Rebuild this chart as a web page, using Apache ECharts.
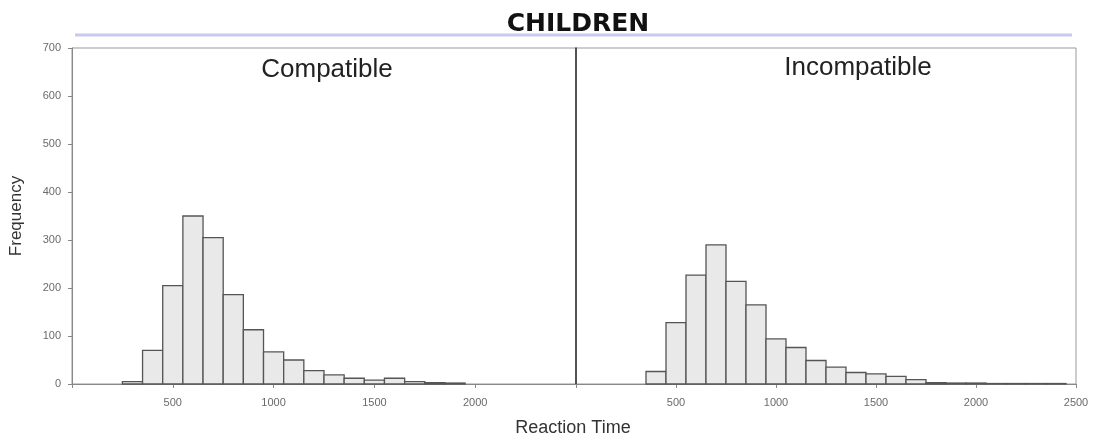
<!DOCTYPE html>
<html><head><meta charset="utf-8">
<script src="https://cdn.jsdelivr.net/npm/echarts@6/dist/echarts.min.js"></script>
<style>html,body{margin:0;padding:0;background:#fff}#c{width:1099px;height:444px}</style>
</head><body><div id="c"></div>
<script>
// Histogram bins (start of each 100 ms bin)
const binStarts = [250,350,450,550,650,750,850,950,1050,1150,1250,1350,1450,1550,1650,1750,1850,1950,2050,2150,2250,2350];
const binWidth = 100;
const compatibleCounts   = [5,70,205,350,305,186,113,67,50,28,19,12,8,12,5,3,2,0,0,0,0,0];
const incompatibleCounts = [0,26,128,227,290,214,165,94,76,49,35,24,21,16,9,3,2,2,1,1,1,1];
const panelTitles = ['Compatible','Incompatible'];
const xTicks = [500,1000,1500,2000,2500];

const chart = echarts.init(document.getElementById('c'));
function histData(counts){ return binStarts.map((s,i)=>[s, s+binWidth, counts[i]]).filter(d=>d[2]>0); }
function renderItem(params, api){
  const a = api.coord([api.value(0), api.value(2)]);
  const b = api.coord([api.value(1), 0]);
  return {type:'rect', shape:{x:a[0], y:a[1], width:b[0]-a[0], height:b[1]-a[1]},
    style:{fill:'#e9e9e9', stroke:'#555', lineWidth:1.3}};
}
const axisLabelStyle = {color:'#6a6a6a', fontSize:11, fontFamily:'Arial'};
function xAxis(idx, showLast){
  return {type:'value', gridIndex:idx, min:0, max:2500, interval:500,
    axisLine:{show:true, lineStyle:{color:'#888'}}, splitLine:{show:false},
    axisTick:{show:true, length:4, lineStyle:{color:'#888'}},
    axisLabel:Object.assign({margin:13, formatter:v => (xTicks.indexOf(v)<0 || (!showLast && v===2500)) ? '' : String(v)}, axisLabelStyle)};
}
const option = {
  backgroundColor:'#fff',
  animation:false,
  title:[
    {text:'CHILDREN', left:573, textAlign:'center', top:7, textStyle:{fontFamily:'DejaVu Sans', fontWeight:'bold', fontSize:25, color:'#111'}},
    {text:panelTitles[0], left:322, textAlign:'center', top:52, textStyle:{fontFamily:'Arial', fontWeight:'normal', fontSize:26, color:'#222'}},
    {text:panelTitles[1], left:853, textAlign:'center', top:50, textStyle:{fontFamily:'Arial', fontWeight:'normal', fontSize:26, color:'#222'}}
  ],
  grid:[
    {left:72, right:523, top:48, bottom:60, show:true, borderColor:'#999', borderWidth:1},
    {left:576, right:23, top:48, bottom:60, show:true, borderColor:'#999', borderWidth:1}
  ],
  xAxis:[xAxis(0,false), xAxis(1,true)],
  yAxis:[
    {type:'value', gridIndex:0, min:0, max:700, interval:100,
      name:'Frequency', nameLocation:'middle', nameGap:47, nameRotate:90,
      nameTextStyle:{fontFamily:'Arial', fontSize:17, color:'#333'},
      axisLine:{show:true, lineStyle:{color:'#888'}}, splitLine:{show:false},
      axisTick:{show:true, length:4, lineStyle:{color:'#888'}},
      axisLabel:Object.assign({margin:11}, axisLabelStyle)},
    {type:'value', gridIndex:1, min:0, max:700, interval:100,
      axisLine:{show:true, lineStyle:{color:'#333', width:1.5}}, splitLine:{show:false},
      axisTick:{show:false}, axisLabel:{show:false}}
  ],
  series:[
    {type:'custom', xAxisIndex:0, yAxisIndex:0, renderItem, encode:{x:[0,1], y:2}, data:histData(compatibleCounts)},
    {type:'custom', xAxisIndex:1, yAxisIndex:1, renderItem, encode:{x:[0,1], y:2}, data:histData(incompatibleCounts)}
  ],
  graphic:[
    {type:'line', shape:{x1:75, y1:35, x2:1072, y2:35}, style:{stroke:'#c8c8f0', lineWidth:3}},
    {type:'text', x:573, y:419, style:{text:'Reaction Time', font:'18px Arial', fill:'#333', align:'center'}}
  ]
};
chart.setOption(option);
</script></body></html>
